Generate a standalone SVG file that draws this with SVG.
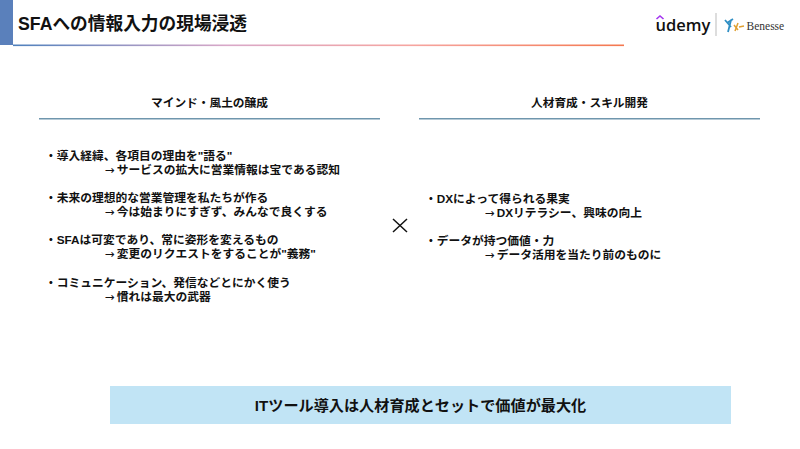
<svg xmlns="http://www.w3.org/2000/svg" width="800" height="449" viewBox="0 0 800 449">
<style>
text{font-family:"Liberation Sans","Noto Sans CJK JP",sans-serif;fill:#111}
.t{font-size:11.75px;font-weight:600}
.a{font-family:"DejaVu Sans",sans-serif;font-weight:400;letter-spacing:1.900px}
.h{font-size:11.7px;font-weight:700;text-anchor:middle}
</style>
<defs><linearGradient id="g" x1="0" x2="1" y1="0" y2="0"><stop offset="0" stop-color="#4f81bd"/><stop offset=".35" stop-color="#d9a8c8"/><stop offset=".65" stop-color="#f6a5a0"/><stop offset="1" stop-color="#f4784f"/></linearGradient></defs>
<rect width="800" height="449" fill="#fff"/>
<g id="header">
<rect x="0" y="0" width="13" height="45" fill="#5a80bb"/>
<rect x="13" y="44.500" width="611" height="1.600" fill="url(#g)"/>
<text x="18" y="30" font-size="17.700" font-weight="700">SFAへの情報入力の現場浸透</text>
</g>
<g id="logos">
<path d="M656.500 19L660 16L663.500 19" fill="none" stroke="#a435f0" stroke-width="1.600"/>
<text x="655.500" y="31" style="font-family:'Open Sans',sans-serif;font-size:16.500px;font-weight:600">udemy</text>
<rect x="715.500" y="13" width="1" height="23" fill="#bbb"/>
<path d="M725 20L731 27M731 20L728 32M733 19L727 23" fill="none" stroke="#2f8fc4" stroke-width="1.800"/>
<path d="M734 25L738 30M738 23L735 31M739 27L744 26" fill="none" stroke="#e0a030" stroke-width="1.500"/>
<text x="746.500" y="30" style="font-family:'Liberation Serif',serif;font-size:11.500px;fill:#333">Benesse</text>
</g>
<g id="left-col">
<text class="h" x="209.500" y="107">マインド・風土の醸成</text>
<rect x="39" y="118" width="341" height="1.500" fill="#6f96ad"/>
<text class="t" x="45" y="160">・導入経緯、各項目の理由を"語る"</text>
<text class="t" x="105" y="174"><tspan class="a">→</tspan>サービスの拡大に営業情報は宝である認知</text>
<text class="t" x="45" y="202">・未来の理想的な営業管理を私たちが作る</text>
<text class="t" x="105" y="216"><tspan class="a">→</tspan>今は始まりにすぎず、みんなで良くする</text>
<text class="t" x="45" y="244">・SFAは可変であり、常に姿形を変えるもの</text>
<text class="t" x="105" y="258"><tspan class="a">→</tspan>変更のリクエストをすることが"義務"</text>
<text class="t" x="45" y="286.500">・コミュニケーション、発信などとにかく使う</text>
<text class="t" x="105" y="300.500"><tspan class="a">→</tspan>慣れは最大の武器</text>
</g>
<g id="times"><path d="M393 219L407 232M407 219L393 232" stroke="#111" stroke-width="1.500" fill="none"/></g>
<g id="right-col">
<text class="h" x="589.500" y="107">人材育成・スキル開発</text>
<rect x="419" y="118" width="341" height="1.500" fill="#6f96ad"/>
<text class="t" x="425" y="203">・DXによって得られる果実</text>
<text class="t" x="485" y="217"><tspan class="a">→</tspan>DXリテラシー、興味の向上</text>
<text class="t" x="425" y="245">・データが持つ価値・力</text>
<text class="t" x="485" y="259"><tspan class="a">→</tspan>データ活用を当たり前のものに</text>
</g>
<g id="conclusion">
<rect x="110" y="386" width="621" height="38" fill="#c1e4f5"/>
<text x="420.500" y="411" font-size="15.150" font-weight="700" text-anchor="middle">ITツール導入は人材育成とセットで価値が最大化</text>
</g>
</svg>
